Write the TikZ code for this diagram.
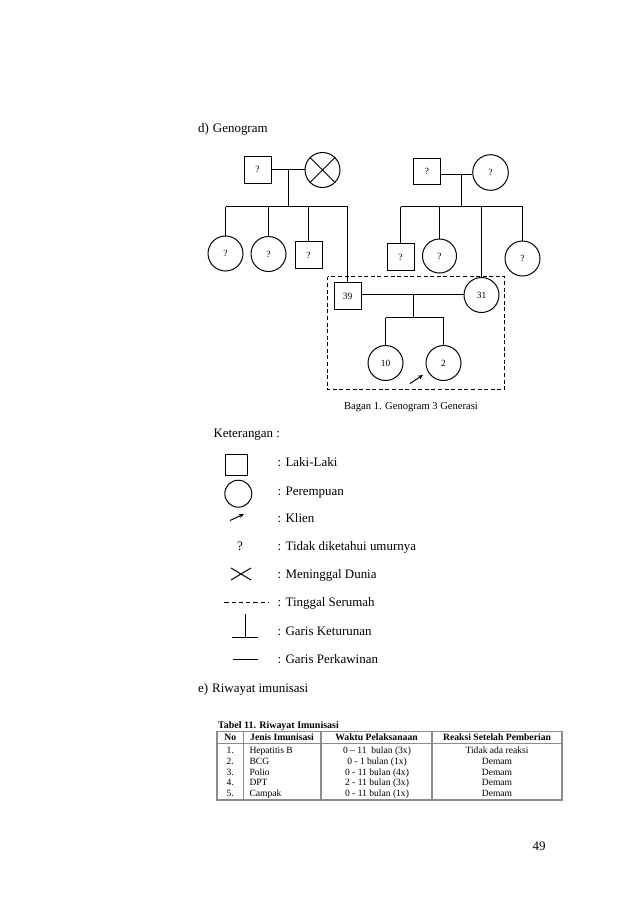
\documentclass[tikz,border=0pt]{standalone}
\usepackage{fontspec}
\setmainfont{Liberation Serif}
\usetikzlibrary{arrows.meta}
\begin{document}
\begin{tikzpicture}[x=1bp,y=-1bp,
  ln/.style={line width=1pt},
  male/.style={draw,line width=1pt,rectangle,minimum width=27bp,minimum height=27bp,inner sep=0pt,font=\fontsize{9.5}{11}\selectfont},
  female/.style={draw,line width=1pt,circle,minimum size=35bp,inner sep=0pt,font=\fontsize{9.5}{11}\selectfont},
  txt/.style={font=\fontsize{13}{15}\selectfont,inner sep=0pt,anchor=west,text height=9.5pt,text depth=0.5pt},
  captext/.style={font=\fontsize{10.6}{12}\selectfont,inner sep=0pt},
  house/.style={line width=1pt,dash pattern=on 4pt off 2.6pt},
  klien/.style={line width=1pt,-{Stealth[length=5pt,width=4.5pt]}},
  tb/.style={draw=black!45,line width=1.1pt},
  th/.style={font=\bfseries\fontsize{9.7}{11}\selectfont,inner sep=0pt,text height=7pt,text depth=0.4pt},
  td/.style={font=\fontsize{9.6}{11}\selectfont,inner sep=0pt,text height=7pt,text depth=0.4pt},
]
\useasboundingbox (0,0) rectangle (638,903);
\fill[white] (0,0) rectangle (638,903);

% headings
\node[txt] (hd) at (198,128) {d)\hspace{4pt}Genogram};

% ---- grandparents left
\node[male] (gf1) at (257.5,169.5) {?};
\node[female] (gm1) at (322.5,170) {};
\draw[ln] (gm1.north west) -- (gm1.south east) (gm1.north east) -- (gm1.south west);
\draw[ln] (gf1.east) -- (gm1.west |- gf1.east);
\coordinate (d1) at (288.5,169.5);
\coordinate (b1) at (288.5,206.5);
\draw[ln] (d1) -- (b1);

% children left
\node[female] (c1) at (225.5,253.5) {?};
\node[female] (c2) at (268.5,254) {?};
\node[male] (c3) at (308.5,255) {?};
\node[male] (f39) at (347.5,296) {39};
\coordinate (bl) at (225.5,206.5);
\coordinate (br) at (347.5,206.5);
\draw[ln] (bl) -- (br);
\draw[ln] (bl) -- (c1.north);
\draw[ln] (c2.north |- bl) -- (c2.north);
\draw[ln] (c3.north |- bl) -- (c3.north);
\draw[ln] (br) -- (f39.north);

% ---- grandparents right
\node[male,minimum height=26bp] (gf2) at (427,171) {?};
\node[female,minimum size=35.6bp] (gm2) at (490.5,172.5) {?};
\coordinate (m2) at (461.5,174.5);
\draw[ln] (gf2.east |- m2) -- (gm2.west |- m2);
\coordinate (b2) at (461.5,206.5);
\draw[ln] (m2) -- (b2);

% children right
\node[male] (c4) at (400.5,257) {?};
\node[female,minimum size=34bp] (c5) at (439.5,256) {?};
\node[female] (m31) at (481.5,295) {31};
\node[female] (c6) at (522.5,258.5) {?};
\coordinate (rl) at (400.5,206.5);
\coordinate (rr) at (522.5,206.5);
\draw[ln] (rl) -- (rr);
\draw[ln] (rl) -- (c4.north);
\draw[ln] (c5.north |- rl) -- (c5.north);
\draw[ln] (m31.north |- rl) -- (m31.north);
\draw[ln] (rr) -- (c6.north);

% ---- nuclear family
\coordinate (d3) at (413.5,294.5);
\draw[ln] (f39.east |- d3) -- (m31.west |- d3);
\coordinate (b3) at (413.5,317.5);
\draw[ln] (d3) -- (b3);
\node[female] (k1) at (385.5,363) {10};
\node[female] (k2) at (443.5,363) {2};
\coordinate (kl) at (385.5,317.5);
\coordinate (kr) at (443.5,317.5);
\draw[ln] (kl) -- (kr);
\draw[ln] (kl) -- (k1.north);
\draw[ln] (kr) -- (k2.north);
\coordinate (ka) at (410,383.5);
\coordinate (kb) at (423,375);
\draw[klien] (ka) -- (kb);

% household box
\coordinate (hb1) at (327.5,276.5);
\coordinate (hb2) at (504.5,389.5);
\draw[house] (hb1) rectangle (hb2);

\node[captext] (cap1) at (411,406.7) {Bagan 1. Genogram 3 Generasi};

% ---- legend
\node[txt] (ket) at (213.3,433.3) {Keterangan :};

\node[draw,line width=1pt,rectangle,minimum width=22bp,minimum height=21bp,inner sep=0pt] (lsq) at (236,464.5) {};
\node[txt] (t1) at (277.3,462.3) {:\hspace{4.5pt}Laki-Laki};

\node[draw,line width=1pt,circle,minimum size=27bp,inner sep=0pt] (lci) at (238.3,493.7) {};
\node[txt] (t2) at (277.3,490.7) {:\hspace{4.5pt}Perempuan};

\coordinate (la1) at (230,520.5);
\coordinate (la2) at (244,514);
\draw[klien] (la1) -- (la2);
\node[txt] (t3) at (277.3,518.3) {:\hspace{4.5pt}Klien};

\node[font=\fontsize{13}{15}\selectfont,inner sep=0pt] (lq) at (240,546) {?};
\node[txt] (t4) at (277.3,546) {:\hspace{4.5pt}Tidak diketahui umurnya};

\coordinate (lx1) at (231,568);
\coordinate (lx2) at (251,580);
\coordinate (lx3) at (231,580);
\coordinate (lx4) at (251,568);
\draw[ln] (lx1) -- (lx2) (lx3) -- (lx4);
\node[txt] (t5) at (277.3,574) {:\hspace{4.5pt}Meninggal Dunia};

\coordinate (ld1) at (224.3,602.5);
\coordinate (ld2) at (268,602.5);
\draw[line width=1pt,dash pattern=on 4.3pt off 3pt] (ld1) -- (ld2);
\node[txt] (t6) at (277.3,602.3) {:\hspace{4.5pt}Tinggal Serumah};

\coordinate (lk1) at (245.5,614.3);
\coordinate (lk2) at (245.5,637.5);
\coordinate (lk3) at (231.7,637.5);
\coordinate (lk4) at (257.7,637.5);
\draw[ln] (lk1) -- (lk2) (lk3) -- (lk4);
\node[txt] (t7) at (277.3,630.7) {:\hspace{4.5pt}Garis Keturunan};

\coordinate (lp1) at (233.3,659.5);
\coordinate (lp2) at (258.3,659.5);
\draw[ln] (lp1) -- (lp2);
\node[txt] (t8) at (277.3,659) {:\hspace{4.5pt}Garis Perkawinan};

\node[txt] (he) at (198,688) {e)\hspace{4pt}Riwayat imunisasi};

% ---- table
\node[th,anchor=west,font=\bfseries\fontsize{10}{11}\selectfont] (tt) at (218,725) {Tabel 11. Riwayat Imunisasi};
\coordinate (tA) at (217,731.7);
\coordinate (tB) at (562,800);
\draw[tb] (tA) rectangle (tB);
\coordinate (h1) at (217,743.2);
\coordinate (h2) at (562,743.2);
\draw[tb] (h1) -- (h2);
\foreach \cx [count=\i] in {243.3,321,432}{
  \coordinate (cT\i) at (\cx,731.7);
  \coordinate (cB\i) at (\cx,800);
  \draw[tb] (cT\i) -- (cB\i);
}
\node[th] (hNo) at (230.2,737.6) {No};
\node[th] (hJe) at (282,737.6) {Jenis Imunisasi};
\node[th] (hWa) at (376.5,737.6) {Waktu Pelaksanaan};
\node[th] (hRe) at (497,737.6) {Reaksi Setelah Pemberian};

\foreach \y/\n/\j/\w/\r [count=\i] in {
  750.5/1./Hepatitis B/{0 -- 11\ \ bulan (3x)}/Tidak ada reaksi,
  761.2/2./BCG/0 - 1 bulan (1x)/Demam,
  771.8/3./Polio/0 - 11 bulan (4x)/Demam,
  782.4/4./DPT/2 - 11 bulan (3x)/Demam,
  793.6/5./Campak/0 - 11 bulan (1x)/Demam}{
  \node[td] (rn\i) at (230.2,\y) {\n};
  \node[td,anchor=west] (rj\i) at (249.3,\y) {\j};
  \node[td] (rw\i) at (377,\y) {\w};
  \node[td] (rr\i) at (497,\y) {\r};
}

\node[font=\fontsize{13}{15}\selectfont,inner sep=0pt] (pg) at (539,846.5) {49};
\end{tikzpicture}
\end{document}
